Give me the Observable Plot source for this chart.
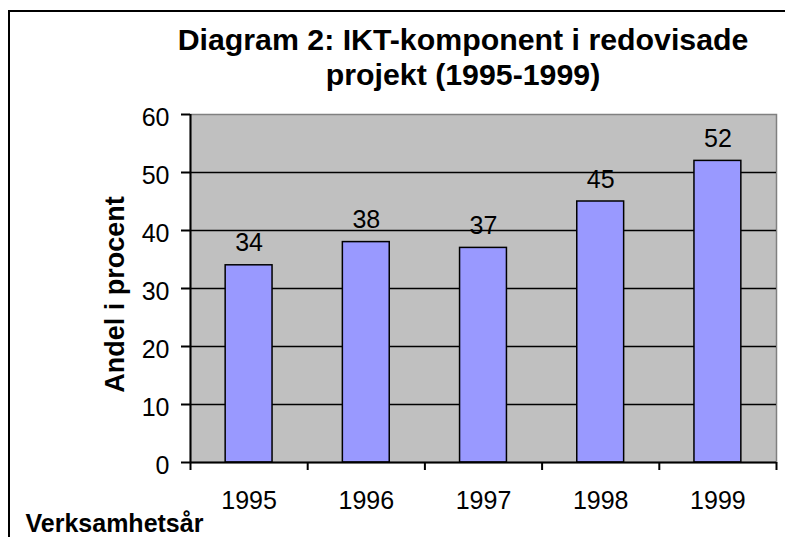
<!DOCTYPE html>
<html>
<head>
<meta charset="utf-8">
<script src="https://cdn.jsdelivr.net/npm/d3@7"></script>
<script src="https://cdn.jsdelivr.net/npm/@observablehq/plot@0.6"></script>
<style>
  html, body { margin: 0; padding: 0; background: white; }
  #wrap { position: relative; width: 785px; height: 537px; overflow: hidden; background: white; }
  #border { position: absolute; left: 8px; top: 10px; width: 900px; height: 700px; border-left: 2px solid black; border-top: 2px solid black; }
  #title { position: absolute; left: 163px; top: 22px; width: 600px; text-align: center;
           font-family: "Liberation Sans", Arial, sans-serif; font-weight: bold; font-size: 30.3px; line-height: 35px; color: black; }
  #chart { position: absolute; left: 0; top: 0; }
</style>
</head>
<body>
<div id="wrap">
  <div id="border"></div>
  <div id="chart"></div>
  <div id="title">Diagram 2: IKT-komponent i redovisade<br>projekt (1995-1999)</div>
</div>
<script>
const years = [1995, 1996, 1997, 1998, 1999];
const values = [34, 38, 37, 45, 52];
const yTicks = [0, 10, 20, 30, 40, 50, 60];
const gridValues = [10, 20, 30, 40, 50];
const yLabel = "Andel i procent";
const xLabel = "Verksamhetsår";

const data = years.map((year, i) => ({year, value: values[i]}));
const boundaries = years.map(y => y - 0.5).concat([years[years.length - 1] + 0.5]);

const chart = Plot.plot({
  width: 785,
  height: 537,
  marginLeft: 190,
  marginRight: 9,
  marginTop: 114,
  marginBottom: 75,
  x: {domain: [boundaries[0], boundaries[boundaries.length - 1]]},
  y: {domain: [0, 60]},
  style: {fontFamily: "'Liberation Sans', Arial, sans-serif", fontSize: "25px", color: "black", background: "transparent", overflow: "visible"},
  marks: [
    Plot.frame({fill: "#c0c0c0", stroke: "#808080", strokeWidth: 1.5}),
    Plot.ruleY(gridValues, {stroke: "black", strokeWidth: 1.5}),
    Plot.rectY(data, {x1: d => d.year - 0.2, x2: d => d.year + 0.2, y1: 0, y2: "value", fill: "#9999ff", stroke: "black", strokeWidth: 1.5}),
    Plot.text(data, {x: "year", y: "value", text: d => String(d.value), lineAnchor: "bottom", dy: -14, fontSize: 25, fill: "black"}),
    Plot.ruleX([boundaries[0]], {stroke: "black", strokeWidth: 2}),
    Plot.ruleY([0], {stroke: "black", strokeWidth: 2}),
    Plot.axisY({ticks: yTicks, tickSize: 9, tickFormat: () => "", label: null, stroke: "black", strokeWidth: 2}),
    Plot.axisY({ticks: yTicks, tickSize: 0, tickPadding: 21, dy: 3, fontSize: 25, label: null}),
    Plot.axisX({ticks: boundaries, tickSize: 8, tickFormat: () => "", label: null, stroke: "black", strokeWidth: 2}),
    Plot.axisX({ticks: years, tickSize: 0, tickPadding: 29, tickFormat: d => String(d), fontSize: 25, label: null}),
    Plot.text([yLabel], {frameAnchor: "left", textAnchor: "middle", rotate: -90, dx: -75, dy: 6, fontWeight: "bold", fontSize: 27, fill: "black"}),
    Plot.text([xLabel], {frameAnchor: "bottom-left", textAnchor: "start", lineAnchor: "bottom", dx: -165, dy: 69, fontWeight: "bold", fontSize: 25, fill: "black"})
  ]
});
document.getElementById("chart").appendChild(chart);
</script>
</body>
</html>
